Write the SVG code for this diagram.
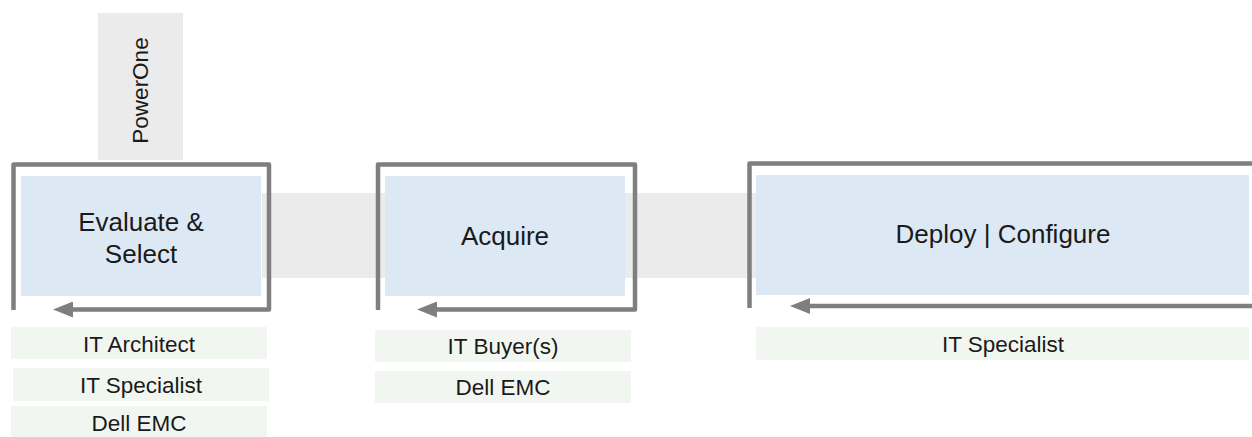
<svg xmlns="http://www.w3.org/2000/svg" width="1252" height="437" viewBox="0 0 1252 437">
<style>
  .band{fill:#ebebeb}
  .stage{fill:#dde8f5}
  .role{fill:#f2f6f0}
  .frame{fill:none;stroke:#7f7f7f;stroke-width:4.5;stroke-linejoin:round;marker-end:url(#ah)}
  .t{font-family:"Liberation Sans",Arial,sans-serif;fill:#1a1a1a;text-anchor:middle}
  .big{font-size:26px}
  .small{font-size:22.5px}
</style>
<defs>
  <marker id="ah" viewBox="0 0 20 16" refX="10" refY="8" markerWidth="20" markerHeight="16" markerUnits="userSpaceOnUse" orient="auto">
    <path d="M0,0 L20,8 L0,16 z" fill="#7f7f7f"/>
  </marker>
</defs>
<rect class="band" x="262" y="193" width="494" height="85"/>
<g id="powerone">
  <rect class="band" x="98" y="13" width="85" height="147"/>
  <text class="t small" transform="translate(148,90.5) rotate(-90)">PowerOne</text>
</g>
<g id="connectors">
  <path class="frame" d="M13.5,310 L13.5,164.5 L269,164.5 L269,309.5 L63,309.5"/>
  <path class="frame" d="M378,310 L378,164.5 L635,164.5 L635,309.5 L427,309.5"/>
  <path class="frame" d="M749.5,308 L749.5,163.5 L1256,163.5 M1256,306 L800,306"/>
</g>
<g id="evaluate">
  <rect class="stage" x="21" y="176" width="240" height="120"/>
  <text class="t big" x="141" y="231">Evaluate &amp;</text>
  <text class="t big" x="141" y="263">Select</text>
</g>
<g id="acquire">
  <rect class="stage" x="385" y="176" width="240" height="120"/>
  <text class="t big" x="505" y="245">Acquire</text>
</g>
<g id="deploy">
  <rect class="stage" x="756" y="175" width="493" height="120"/>
  <text class="t big" x="1003" y="243">Deploy | Configure</text>
</g>
<g id="role-it-architect">
  <rect class="role" x="11" y="327" width="256" height="32"/>
  <text class="t small" x="139" y="352">IT Architect</text>
</g>
<g id="role-it-specialist-1">
  <rect class="role" x="13" y="368" width="256" height="33"/>
  <text class="t small" x="141" y="393">IT Specialist</text>
</g>
<g id="role-dell-emc-1">
  <rect class="role" x="11" y="406" width="256" height="32"/>
  <text class="t small" x="139" y="431">Dell EMC</text>
</g>
<g id="role-it-buyers">
  <rect class="role" x="375" y="330" width="256" height="32"/>
  <text class="t small" x="503" y="354">IT Buyer(s)</text>
</g>
<g id="role-dell-emc-2">
  <rect class="role" x="375" y="371" width="256" height="32"/>
  <text class="t small" x="503" y="395">Dell EMC</text>
</g>
<g id="role-it-specialist-3">
  <rect class="role" x="756" y="327" width="493" height="33"/>
  <text class="t small" x="1003" y="352">IT Specialist</text>
</g>
</svg>
